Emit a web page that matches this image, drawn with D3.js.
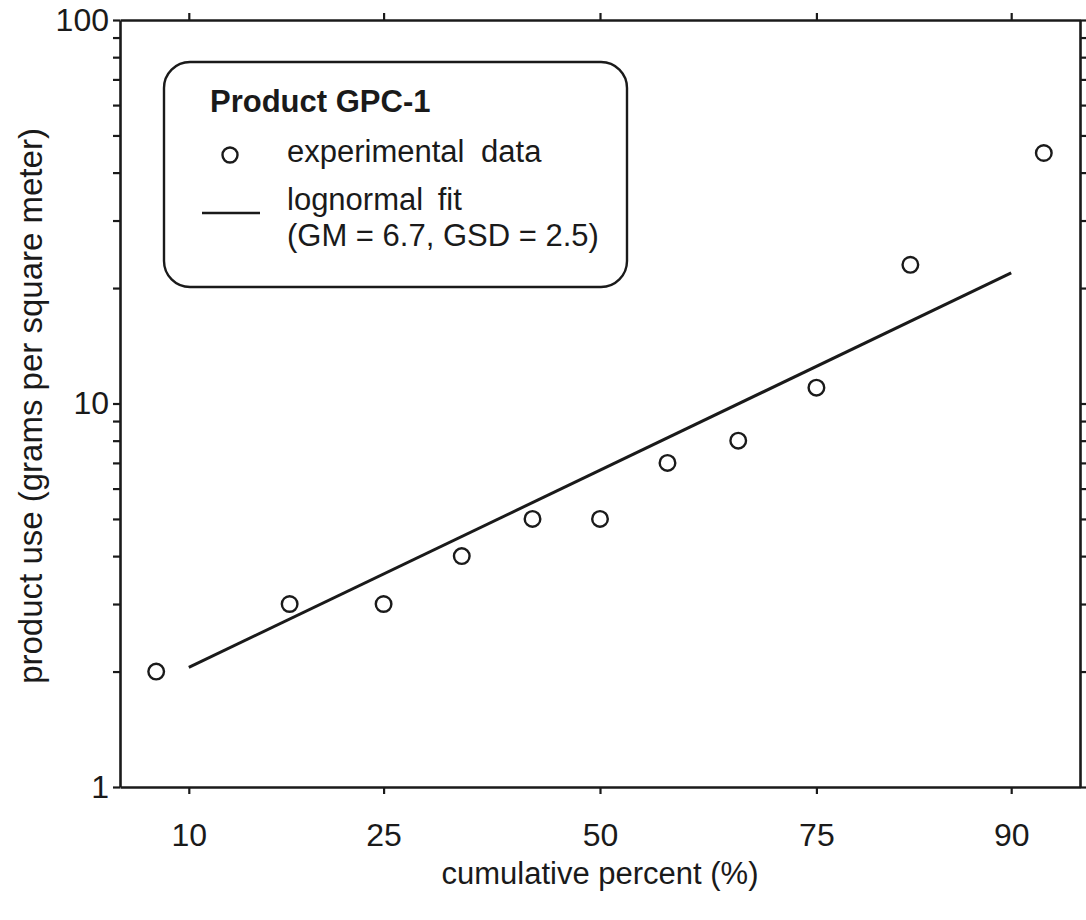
<!DOCTYPE html>
<html>
<head>
<meta charset="utf-8">
<script src="https://cdn.jsdelivr.net/npm/d3@7"></script>
<style>
  html, body { margin: 0; padding: 0; background: #fff; }
  svg { display: block; }
  text { font-family: "Liberation Sans", Arial, Helvetica, sans-serif; fill: #1a1a1a; }
</style>
</head>
<body>
<svg id="chart" width="1086" height="920"></svg>
<script>
// ---- data ----
const percentTicks = [10, 25, 50, 75, 90];
const pointPercent = [8.33, 16.67, 25, 33.33, 41.67, 50, 58.33, 66.67, 75, 83.33, 91.67];
const pointValues  = [2, 3, 3, 4, 5, 5, 7, 8, 11, 23, 45];
const fitPercent = [10, 90];
const fitValues  = [2.05, 21.9];
const yMinorTicks = [1,2,3,4,5,6,7,8,9,10,20,30,40,50,60,70,80,90,100];
const yLabelTicks = [1, 10, 100];
const legendTitle = "Product GPC-1";
const legendPoints = "experimental data";
const legendFit = ["lognormal fit", "(GM = 6.7, GSD = 2.5)"];
const xTitle = "cumulative percent (%)";
const yTitle = "product use (grams per square meter)";

// inverse standard normal CDF (Acklam)
function probit(p) {
  const a = [-3.969683028665376e+01, 2.209460984245205e+02, -2.759285104469687e+02, 1.383577518672690e+02, -3.066479806614716e+01, 2.506628277459239e+00];
  const b = [-5.447609879822406e+01, 1.615858368580409e+02, -1.556989798598866e+02, 6.680131188771972e+01, -1.328068155288572e+01];
  const c = [-7.784894002430293e-03, -3.223964580411365e-01, -2.400758277161838e+00, -2.549732539343734e+00, 4.374664141464968e+00, 2.938163982698783e+00];
  const d = [7.784695709041462e-03, 3.224671290700398e-01, 2.445134137142996e+00, 3.754408661907416e+00];
  const pl = 0.02425, ph = 1 - pl;
  let q, r;
  if (p < pl) {
    q = Math.sqrt(-2 * Math.log(p));
    return (((((c[0]*q+c[1])*q+c[2])*q+c[3])*q+c[4])*q+c[5]) / ((((d[0]*q+d[1])*q+d[2])*q+d[3])*q+1);
  } else if (p <= ph) {
    q = p - 0.5; r = q*q;
    return (((((a[0]*r+a[1])*r+a[2])*r+a[3])*r+a[4])*r+a[5])*q / (((((b[0]*r+b[1])*r+b[2])*r+b[3])*r+b[4])*r+1);
  } else {
    q = Math.sqrt(-2 * Math.log(1 - p));
    return -(((((c[0]*q+c[1])*q+c[2])*q+c[3])*q+c[4])*q+c[5]) / ((((d[0]*q+d[1])*q+d[2])*q+d[3])*q+1);
  }
}

const L = 120, R = 1080, T = 20, B = 787;
const svg = d3.select("#chart");

const xz = d3.scaleLinear().domain([-1.496, 1.496]).range([L, R]);
const xp = p => xz(probit(p / 100));
const y = d3.scaleLog().domain([1, 100]).range([B, T]);

const FS = 31;
const TICK_FS = 32;
const AX_W = 2.6;

function styleAxis(g) {
  g.attr("font-size", TICK_FS);
  g.select(".domain").attr("stroke", "#1a1a1a").attr("stroke-width", AX_W);
  g.selectAll(".tick line").attr("stroke", "#1a1a1a").attr("stroke-width", 2.2);
  g.selectAll(".tick text").attr("font-size", TICK_FS).attr("fill", "#1a1a1a")
    .attr("font-family", '"Liberation Sans", Arial, sans-serif');
}

const zTicks = percentTicks.map(p => probit(p / 100));

// bottom axis
svg.append("g").attr("transform", `translate(0,${B})`)
  .call(d3.axisBottom(xz).tickValues(zTicks).tickFormat((d, i) => percentTicks[i])
    .tickSize(7).tickSizeOuter(0).tickPadding(29))
  .call(styleAxis);

// top axis
svg.append("g").attr("transform", `translate(0,${T})`)
  .call(d3.axisTop(xz).tickValues(zTicks).tickFormat("").tickSize(7).tickSizeOuter(0))
  .call(styleAxis);

// left axis
svg.append("g").attr("transform", `translate(${L},0)`)
  .call(d3.axisLeft(y).tickValues(yMinorTicks)
    .tickFormat(d => yLabelTicks.includes(d) ? d : "")
    .tickSize(7).tickSizeOuter(0).tickPadding(4))
  .call(styleAxis);

// right axis
svg.append("g").attr("transform", `translate(${R},0)`)
  .call(d3.axisRight(y).tickValues(yMinorTicks).tickFormat("").tickSize(7).tickSizeOuter(0))
  .call(styleAxis);

// fit line
svg.append("path")
  .datum(fitPercent.map((p, i) => [p, fitValues[i]]))
  .attr("fill", "none").attr("stroke", "#1a1a1a").attr("stroke-width", 3)
  .attr("d", d3.line().x(d => xp(d[0])).y(d => y(d[1])));

// points
svg.append("g").selectAll("circle")
  .data(pointPercent.map((p, i) => [p, pointValues[i]]))
  .join("circle")
  .attr("cx", d => xp(d[0])).attr("cy", d => y(d[1])).attr("r", 7.8)
  .attr("fill", "none").attr("stroke", "#1a1a1a").attr("stroke-width", 2.4);

// axis titles
svg.append("text").attr("x", 600).attr("y", 884).attr("text-anchor", "middle")
  .attr("font-size", FS).text(xTitle);
svg.append("text").attr("transform", "translate(42,406) rotate(-90)")
  .attr("text-anchor", "middle").attr("font-size", 33).text(yTitle);

// legend
const lg = svg.append("g");
lg.append("rect").attr("x", 164).attr("y", 62).attr("width", 463).attr("height", 225)
  .attr("rx", 26).attr("ry", 26).attr("fill", "#fff").attr("stroke", "#1a1a1a").attr("stroke-width", 2.4);
lg.append("text").attr("x", 210).attr("y", 112).attr("font-size", FS).attr("font-weight", "bold").text(legendTitle);
lg.append("circle").attr("cx", 230).attr("cy", 155).attr("r", 7.5)
  .attr("fill", "none").attr("stroke", "#1a1a1a").attr("stroke-width", 2.4);
lg.append("text").attr("x", 287).attr("y", 162).attr("font-size", FS).attr("word-spacing", 8).text(legendPoints);
lg.append("line").attr("x1", 202).attr("x2", 260).attr("y1", 213).attr("y2", 213)
  .attr("stroke", "#1a1a1a").attr("stroke-width", 2.6);
lg.append("text").attr("x", 287).attr("y", 210).attr("font-size", FS).attr("word-spacing", 6).text(legendFit[0]);
lg.append("text").attr("x", 287).attr("y", 246).attr("font-size", FS).text(legendFit[1]);
</script>
</body>
</html>
